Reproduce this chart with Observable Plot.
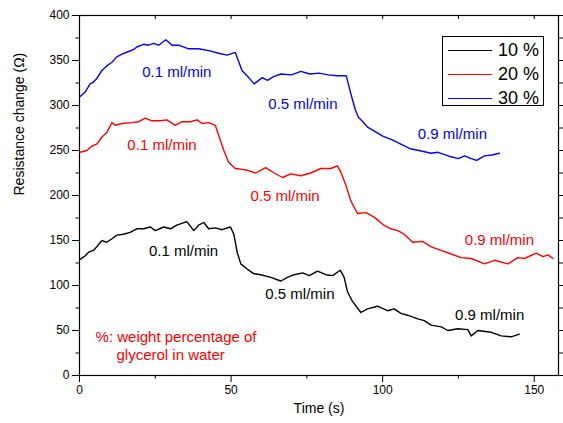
<!DOCTYPE html>
<html><head><meta charset="utf-8">
<script src="https://cdn.jsdelivr.net/npm/d3@7"></script>
<script src="https://cdn.jsdelivr.net/npm/@observablehq/plot@0.6"></script>
<style>
body{margin:0;background:#fff;font-family:"Liberation Sans",Arial,sans-serif;}
#wrap{position:relative;width:563px;height:423px;}
.legend{position:absolute;left:442px;top:36px;width:102px;height:70px;border:1px solid #000;background:#fff;box-sizing:border-box;}
.row{position:absolute;left:5px;height:24px;display:flex;align-items:center;}
.row .sw{width:44px;height:0;border-top:1.5px solid #000;margin-right:6px;}
.row span{font-size:18px;color:#000;line-height:18px;}
</style></head><body><div id="wrap"></div>
<script>
const series = ["10 %", "20 %", "30 %"];
const colors = ["#000000", "#ff0000", "#0000ff"];

const t10 = [0.2,1.9,3.0,4.6,5.7,7.4,9.0,10.7,12.3,14.5,16.7,18.9,21.1,23.4,25.0,27.8,30.0,32.1,35.4,37.7,39.3,41.0,42.6,44.8,47.0,49.8,50.9,52.0,53.2,55.4,57.6,59.8,63.1,66.4,68.6,70.8,73.6,75.8,78.5,81.3,83.5,86.0,87.3,88.4,90.1,92.8,95.0,98.3,101.6,103.8,106.0,108.2,111.6,113.7,116.0,119.3,121.5,124.8,128.1,129.2,131.4,135.8,139.1,142.4,145.1];
const v10 = [129,133,137,139,143,150,148,152,156,157,159,163,163,165,161,165,163,167,171,161,167,170,163,164,162,165,157,137,124,118,113,112,109,105,109,112,114,111,116,112,111,117,109,93,82,70,74,77,72,74,69,67,63,61,56,54,50,52,51,44,50,48,44,43,46];

const t20 = [0.2,2.4,4.1,5.7,7.4,9.0,10.7,11.8,14.0,17.3,19.5,21.7,23.9,26.6,28.8,31.6,33.8,36.6,38.8,40.4,42.6,44.8,45.9,47.6,49.2,51.4,53.6,55.4,58.1,61.4,64.2,67.0,69.7,73.0,76.3,79.6,82.9,85.1,86.2,87.9,89.5,91.7,94.5,97.2,100.0,102.7,105.0,107.1,109.9,113.2,116.0,119.3,122.6,125.9,129.2,133.6,136.9,141.3,144.6,146.8,150.6,152.9,154.5,156.2];
const v20 = [248,250,255,257,265,270,281,278,280,281,282,286,283,283,284,278,282,282,284,280,281,278,267,250,237,230,229,228,225,231,225,220,224,222,225,230,230,233,226,211,194,180,181,176,168,163,161,157,148,149,143,139,135,131,130,124,128,124,131,130,136,132,134,130];

const t30 = [0.2,1.9,3.5,4.6,5.7,7.4,9.0,10.7,12.3,14.0,16.2,17.8,18.9,21.1,22.8,24.4,26.1,28.5,30.5,32.7,36.0,39.3,42.6,45.9,48.7,51.4,53.6,55.8,57.6,60.3,62.0,64.0,66.4,70.0,73.0,76.0,79.0,82.0,85.0,88.0,89.5,91.0,92.0,94.0,95.0,97.0,100.0,103.0,106.0,109.0,112.0,116.0,118.2,122.6,125.0,127.0,129.2,131.0,133.6,136.0,138.5];
const v30 = [310,315,324,326,330,339,344,348,354,357,360,362,365,368,367,369,367,373,367,367,363,363,361,358,356,359,339,331,324,331,328,332,335,334,338,335,336,334,333,333,313,295,287,280,276,272,266,262,257,252,250,247,248,243,241,244,241,239,244,245,247];

const annSeries = ["30 %","30 %","30 %","20 %","20 %","20 %","10 %","10 %","10 %"];
const annX = [32.1, 73.7, 123.0, 27.2, 67.8, 138.5, 34.3, 72.7, 135.3];
const annY = [337, 302, 268, 255.6, 199, 150.7, 137.8, 90, 66.7];
const annText = ["0.1 ml/min","0.5 ml/min","0.9 ml/min","0.1 ml/min","0.5 ml/min","0.9 ml/min","0.1 ml/min","0.5 ml/min","0.9 ml/min"];

const noteLines = ["%: weight percentage of", "glycerol in water"];
const noteX = [5.3, 12.2];
const noteY = [42.2, 22.2];

const xMajor = [0, 50, 100, 150];
const xMinor = [25, 75, 125];
const yMajor = [0, 50, 100, 150, 200, 250, 300, 350, 400];
const yMinor = [25, 75, 125, 175, 225, 275, 325, 375];
const yAll = [0,25,50,75,100,125,150,175,200,225,250,275,300,325,350,375,400];
const xAll = [0,25,50,75,100,125,150];

const rows = [];
[[t10,v10],[t20,v20],[t30,v30]].forEach(([ts,vs],i)=>ts.forEach((t,j)=>rows.push({s:series[i],t,v:vs[j]})));
const ann = annText.map((text,i)=>({s:annSeries[i],x:annX[i],y:annY[i],text}));
const note = noteLines.map((text,i)=>({x:noteX[i],y:noteY[i],text}));

const font = '"Liberation Sans", Arial, sans-serif';
const chart = Plot.plot({
  width: 563, height: 423,
  marginLeft: 79, marginRight: 5, marginTop: 15, marginBottom: 48,
  x: {domain: [0, 158]},
  y: {domain: [0, 400]},
  color: {domain: series, range: colors},
  style: {fontFamily: font, fontSize: "12px", color: "#000", background: "#fff"},
  marks: [
    Plot.axisY({ticks: yMajor, tickSize: 7, tickPadding: 3, fontSize: 12, label: null}),
    Plot.axisY({ticks: yMinor, tickSize: 3.5, tickFormat: () => "", label: null}),
    Plot.axisY({anchor: "right", ticks: yAll, tickSize: 5, tickFormat: () => "", label: null}),
    Plot.axisX({ticks: xMajor, tickSize: 7, tickPadding: 3, fontSize: 12, label: null}),
    Plot.axisX({ticks: xMinor, tickSize: 3.5, tickFormat: () => "", label: null}),
    Plot.axisX({anchor: "top", ticks: xAll, tickSize: -3, tickFormat: () => "", label: null}),
    Plot.frame({stroke: "#000", strokeWidth: 1.2}),
    Plot.line(rows, {x: "t", y: "v", z: "s", stroke: "s", strokeWidth: 1.4}),
    Plot.text(ann, {x: "x", y: "y", text: "text", fill: "s", fontSize: 15}),
    Plot.text(note, {x: "x", y: "y", text: "text", fill: "#ff0000", fontSize: 15, textAnchor: "start"}),
    Plot.text(["Resistance change (Ω)"], {frameAnchor: "left", rotate: -90, dx: -60, fontSize: 14, fill: "#000"}),
    Plot.text(["Time (s)"], {frameAnchor: "bottom", dy: 37, fontSize: 14, fill: "#000"})
  ]
});
const wrap = document.getElementById("wrap");
wrap.appendChild(chart);
const lg = document.createElement("div");
lg.className = "legend";
series.forEach((s,i)=>{
  const r = document.createElement("div");
  r.className = "row";
  r.style.top = (1 + i*24) + "px";
  r.innerHTML = `<div class="sw" style="border-top-color:${colors[i]}"></div><span>${s}</span>`;
  lg.appendChild(r);
});
wrap.appendChild(lg);
</script></body></html>
